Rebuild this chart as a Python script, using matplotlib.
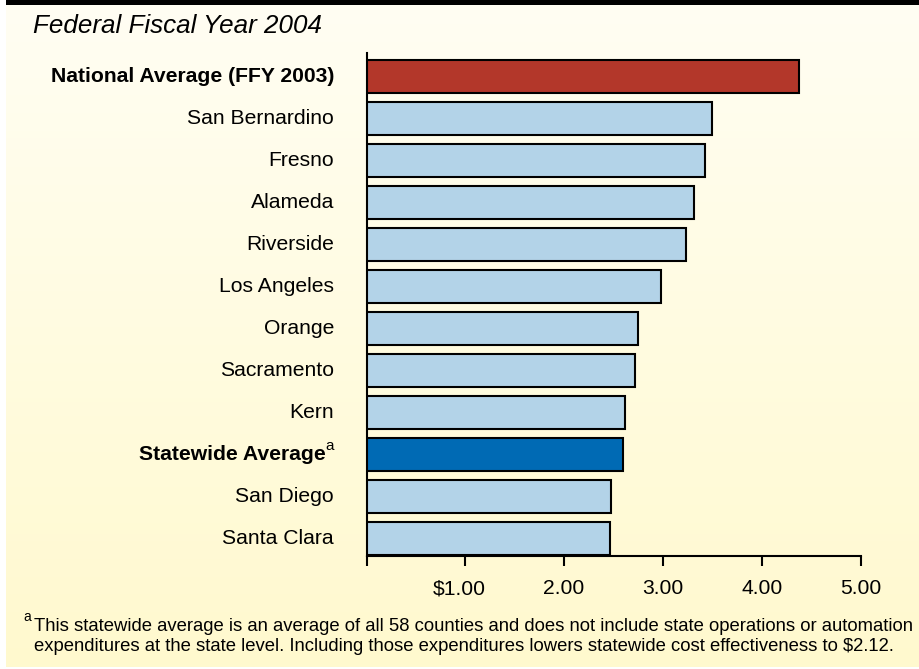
import numpy as np
import matplotlib.pyplot as plt
from matplotlib.patches import Rectangle
from matplotlib.transforms import blended_transform_factory, offset_copy

plt.rcParams['font.family'] = ['Liberation Sans', 'DejaVu Sans']

# cost effectiveness by county, FFY 2004
counties = ["National Average (FFY 2003)", "San Bernardino", "Fresno", "Alameda",
            "Riverside", "Los Angeles", "Orange", "Sacramento", "Kern",
            "Statewide Average", "San Diego", "Santa Clara"]
effectiveness = [4.38, 3.50, 3.43, 3.31, 3.23, 2.98, 2.75, 2.72, 2.62, 2.60, 2.47, 2.46]
tick_vals = [0, 1, 2, 3, 4, 5]
tick_text = ["", "$1.00", "2.00", "3.00", "4.00", "5.00"]

title = "Federal Fiscal Year 2004"
note_line1 = ("This statewide average is an average of all 58 counties and does not "
              "include state operations or automation")
note_line2 = ("expenditures at the state level. Including those expenditures lowers "
              "statewide cost effectiveness to $2.12.")

W, H = 919, 669
fig = plt.figure(figsize=(W / 100, H / 100), dpi=100)
fig.patch.set_facecolor('white')

# page background: pale yellow gradient with a black rule on top
bg = fig.add_axes([0, 0, 1, 1])
bg.set_axis_off()
bg.set_xlim(0, W)
bg.set_ylim(H, 0)
top_c = np.array([255, 254, 243]) / 255
bot_c = np.array([255, 249, 206]) / 255
t = np.linspace(0, 1, 256)[:, None, None]
grad = top_c * (1 - t) + bot_c * t
bg.imshow(grad, extent=(6, W, H - 2, 5), aspect='auto', interpolation='bilinear')
bg.add_patch(Rectangle((6, 0), W - 6, 5, color='black', lw=0))


def fx(px):
    return px / W


def fy(py):
    return 1 - py / H


ax = fig.add_axes([fx(366.5), fy(556), fx(860.5) - fx(366.5), fy(53.3) - fy(556)])
ax.set_facecolor('none')

light = '#b3d3e8'
colors = [light] * len(counties)
colors[counties.index("National Average (FFY 2003)")] = '#b3372a'
colors[counties.index("Statewide Average")] = '#006ab4'

y = np.arange(len(counties))
ax.barh(y, effectiveness, height=0.78, color=colors, edgecolor='black', linewidth=1.5, zorder=3)

ax.set_xlim(0, 5)
ax.set_ylim(11.42, -0.55)
for s in ['top', 'right']:
    ax.spines[s].set_visible(False)
for s in ['left', 'bottom']:
    ax.spines[s].set_linewidth(1.5)
ax.set_xticks(tick_vals)
ax.tick_params(axis='x', direction='out', length=7.2, width=1.5, labelbottom=False)
ax.set_yticks([])

label_size = 15.2

# x tick labels, the "$" hangs to the left of the first number
xtrans = blended_transform_factory(ax.transData, ax.transAxes)
for v, lab in zip(tick_vals, tick_text):
    dx = -4.2 if lab.startswith("$") else 0
    tr = offset_copy(xtrans, fig=fig, x=dx, y=-23.5, units='points')
    ax.text(v, 0, lab, transform=tr, ha='center', va='center', fontsize=label_size)

# county labels
ytrans = blended_transform_factory(ax.transAxes, ax.transData)
for yi, name in zip(y, counties):
    bold = "Average" in name
    if name == "Statewide Average":
        tr_a = offset_copy(ytrans, fig=fig, x=-23.4, y=3.2, units='points')
        ax.text(0, yi, "a", transform=tr_a, ha='right', va='baseline', fontsize=11)
        tr = offset_copy(ytrans, fig=fig, x=-29.6, y=0, units='points')
    else:
        tr = offset_copy(ytrans, fig=fig, x=-23.4, y=0, units='points')
    ax.text(0, yi, name, transform=tr, ha='right', va='center', fontsize=label_size,
            fontweight='bold' if bold else 'normal')

fig.text(fx(33), fy(33), title, style='italic', fontsize=18.7, ha='left', va='baseline')

fig.text(fx(23), fy(621), "a", fontsize=10, ha='left', va='baseline')
fig.text(fx(34), fy(631), note_line1, fontsize=13.3, ha='left', va='baseline')
fig.text(fx(34), fy(651), note_line2, fontsize=13.3, ha='left', va='baseline')

fig.savefig('out.png', dpi=100, facecolor=fig.get_facecolor())
